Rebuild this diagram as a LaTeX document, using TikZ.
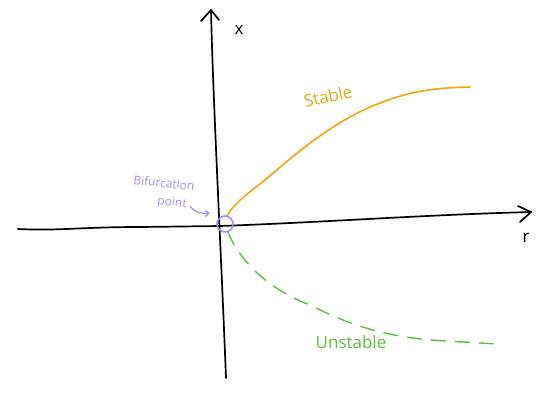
\documentclass[tikz,border=0pt]{standalone}
\usepackage{fontspec}
\setmainfont{Open Sans}
\usetikzlibrary{arrows.meta}
\definecolor{orng}{HTML}{F6A410}
\definecolor{grn}{HTML}{5CBF3E}
\definecolor{lav}{HTML}{A390F2}
\tikzset{
  axis/.style={line width=1.7pt,black,line cap=round,line join=round},
  chev/.style={line width=1.7pt,black,line cap=round,line join=round},
  lbl/.style={font=\fontsize{17}{19}\selectfont},
  bif/.style={lav,font=\fontsize{12}{13}\selectfont,rotate=-6,inner sep=0pt},
}
\begin{document}
\begin{tikzpicture}[x=1pt,y=-1pt]
\useasboundingbox (0,0) rectangle (546,408);
% horizontal axis
\coordinate (hl) at (18,229);
\coordinate (hr) at (531,212);
\draw[axis] (hl) .. controls (60,231) and (80,227) .. (140,227) -- (220,226) .. controls (330,222) and (420,215) .. (hr);
\draw[chev] (518,206) -- (hr) -- (520,222);
% vertical axis
\coordinate (vb) at (226,378);
\coordinate (vt) at (211,10);
\draw[axis] (vb) .. controls (221,250) and (213,100) .. (vt);
\draw[chev] (201,21) -- (vt) -- (219,20);
\node[lbl] (xl) at (239,30) {x};
\node[lbl] (rl) at (526,238) {r};
% stable branch
\coordinate (o) at (225,224);
\draw[orng,line width=1.6pt,line cap=round] (227,216) .. controls (235,202) and (250,192) .. (265,180)
  .. controls (300,150) and (330,125) .. (370,107) .. controls (400,95) and (420,88) .. (470,87);
\node[orng,lbl,rotate=12] (st) at (328,96) {Stable};
% unstable branch
\draw[grn,line width=1.4pt,dash pattern=on 14pt off 10pt,line cap=round] (228,232) .. controls (240,262) and (270,290) .. (310,305)
  .. controls (350,325) and (380,335) .. (430,340) -- (497,344);
\node[grn,lbl] (un) at (351,342) {Unstable};
% bifurcation point
\node[draw=lav,line width=1.6pt,circle,minimum size=16pt,inner sep=0pt] (bp) at (o) {};
\node[bif] (bt1) at (164,183) {Bifurcation};
\node[bif] (bt2) at (172,203) {point};
\draw[lav,line width=1.2pt,-{Straight Barb[length=4pt,width=6pt]}] (190,206) .. controls (195,213) and (202,214) .. (210,213);
\end{tikzpicture}
\end{document}
